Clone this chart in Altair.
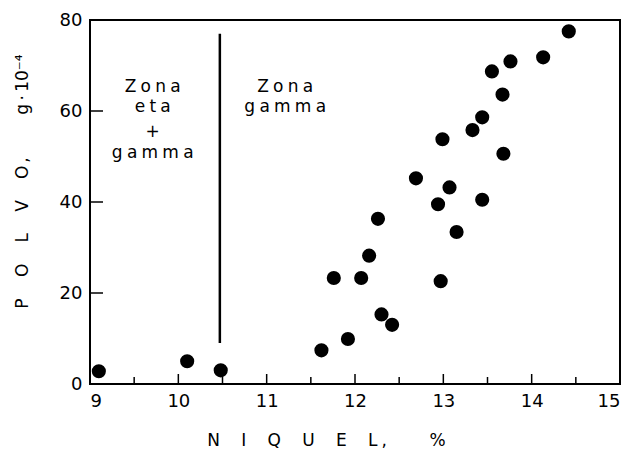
import altair as alt
import pandas as pd

# Data
niquel = [9.10, 10.10, 10.48, 11.62, 11.92, 11.76, 12.07, 12.16, 12.30, 12.42,
          12.97, 13.15, 12.26, 12.69, 12.94, 13.07, 12.99, 13.44, 13.33, 13.44,
          13.68, 13.67, 13.55, 13.76, 14.13, 14.42]
polvo = [2.8, 5.0, 3.0, 7.4, 9.9, 23.3, 23.3, 28.2, 15.3, 13.0,
         22.6, 33.4, 36.3, 45.2, 39.5, 43.2, 53.8, 40.5, 55.8, 58.6,
         50.6, 63.6, 68.7, 70.9, 71.8, 77.5]

x_ticks = [9, 10, 11, 12, 13, 14, 15]
y_ticks = [0, 20, 40, 60, 80]
x_major_inner = [10, 11, 12, 13, 14]
x_minor_inner = [9.5, 10.5, 11.5, 12.5, 13.5, 14.5]
y_inner = [20, 40, 60]

boundary_x = [10.47]
boundary_y0 = [9]
boundary_y1 = [77]

ann_text = ["Z\u2005o\u2005n\u2005a", "e\u2005t\u2005a", "+", "g\u2005a\u2005m\u2005m\u2005a",
            "Z\u2005o\u2005n\u2005a", "g\u2005a\u2005m\u2005m\u2005a"]
ann_x = [9.71, 9.71, 9.71, 9.71, 11.21, 11.21]
ann_y = [65.3, 60.9, 55.4, 50.8, 65.3, 60.9]

FONT = "DejaVu Sans"
W, H = 530, 364

pts = pd.DataFrame({"x": niquel, "y": polvo})
xmaj = pd.DataFrame({"x": x_major_inner})
xmin = pd.DataFrame({"x": x_minor_inner})
yin = pd.DataFrame({"y": y_inner})
bnd = pd.DataFrame({"x": boundary_x, "y": boundary_y0, "y2": boundary_y1})
ann = pd.DataFrame({"t": ann_text, "x": ann_x, "y": ann_y})

GAP = "\u2003\u2005"
x_title = GAP.join(list("NIQUEL")) + "\u2005," + "\u2003\u2003\u2002" + "%"
y_title = (GAP.join(list("POLVO")) + "\u2006," + "\u2003\u2003\u2002"
           + "g\u2009\u00b7\u2009" + "10\u207b\u2074")

xs = alt.Scale(domain=[9, 15], nice=False, zero=False)
ys = alt.Scale(domain=[0, 80], nice=False, zero=False)

xaxis = alt.Axis(values=x_ticks, format="d", title=x_title,
                 titleX=236, titleY=61, titleAnchor="middle", titleAlign="center",
                 titleBaseline="alphabetic")
yaxis = alt.Axis(values=y_ticks, format="d", title=y_title,
                 titleX=-68, titleY=161, titleAngle=270, titleAlign="center",
                 titleBaseline="middle")

points = alt.Chart(pts).mark_circle(size=200, color="black", opacity=1).encode(
    x=alt.X("x:Q", scale=xs, axis=xaxis),
    y=alt.Y("y:Q", scale=ys, axis=yaxis),
)

tick_major = alt.Chart(xmaj).mark_rule(color="black", strokeWidth=1.5).encode(
    x="x:Q", y=alt.value(H), y2=alt.value(H - 10))
tick_minor = alt.Chart(xmin).mark_rule(color="black", strokeWidth=1.5).encode(
    x="x:Q", y=alt.value(H), y2=alt.value(H - 7))
tick_y = alt.Chart(yin).mark_rule(color="black", strokeWidth=1.5).encode(
    y="y:Q", x=alt.value(0), x2=alt.value(13))

boundary = alt.Chart(bnd).mark_rule(color="black", strokeWidth=2.5).encode(
    x="x:Q", y="y:Q", y2="y2:Q")

labels = alt.Chart(ann).mark_text(font=FONT, fontSize=17, color="black",
                                  align="center", baseline="middle").encode(
    x="x:Q", y="y:Q", text="t:N")

chart = alt.layer(points, tick_major, tick_minor, tick_y, boundary, labels).properties(
    width=W, height=H,
    autosize=alt.AutoSizeParams(type="none"),
    padding={"left": 82, "top": 12, "right": 3, "bottom": 70},
).configure_view(
    stroke="black", strokeWidth=2
).configure_axis(
    domain=False, ticks=False, grid=False, labelFont=FONT, labelColor="black",
    labelFontSize=18, labelPadding=8,
    titleFont=FONT, titleFontSize=17, titleFontWeight="normal", titleColor="black",
)

chart.save("out.html", embed_options={"renderer": "svg", "actions": False})
